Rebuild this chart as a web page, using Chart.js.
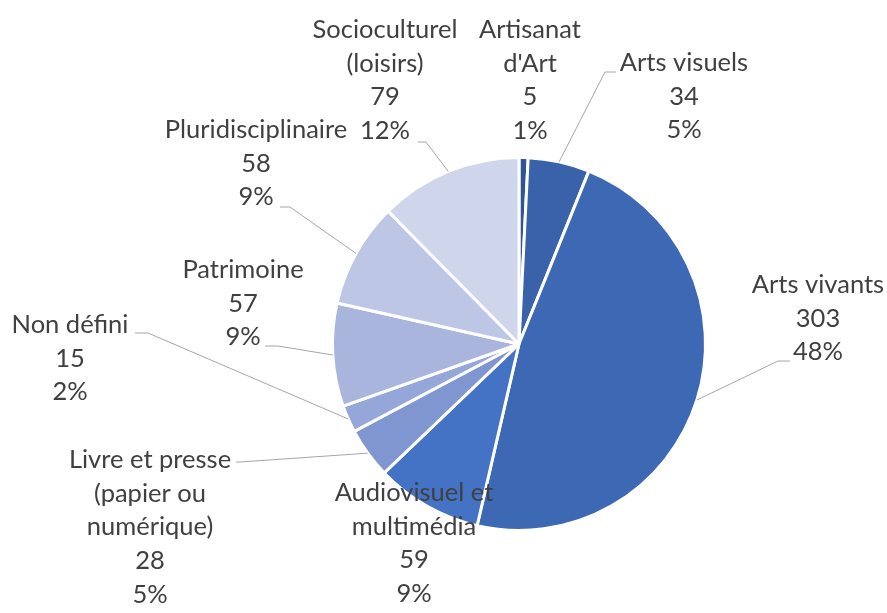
<!DOCTYPE html>
<html>
<head>
<meta charset="utf-8">
<script src="https://cdn.jsdelivr.net/npm/chart.js@4"></script>
<style>
  html, body { margin: 0; padding: 0; background: #fff; }
  #wrap { width: 887px; height: 613px; }
</style>
</head>
<body>
<div id="wrap"><canvas id="myChart" width="887" height="613"></canvas></div>
<script>
// data
const categories = ['Artisanat d\'Art', 'Arts visuels', 'Arts vivants', 'Audiovisuel et multimédia',
  'Livre et presse (papier ou numérique)', 'Non défini', 'Patrimoine', 'Pluridisciplinaire', 'Socioculturel (loisirs)']
const counts = [5, 34, 303, 59, 28, 15, 57, 58, 79]
const percentLabels = ['1%', '5%', '48%', '9%', '5%', '2%', '9%', '9%', '12%']
// how each category name wraps in its label
const nameLines = [
  ['Artisanat', 'd\'Art'],
  ['Arts visuels'],
  ['Arts vivants'],
  ['Audiovisuel et', 'multimédia'],
  ['Livre et presse', '(papier ou', 'numérique)'],
  ['Non défini'],
  ['Patrimoine'],
  ['Pluridisciplinaire'],
  ['Socioculturel', '(loisirs)']
]
const sliceColors = ['#2F5597', '#3A62AB', '#3D69B4', '#4472C4', '#7F96D0', '#95A6D9', '#A9B5DD', '#BDC6E5', '#CFD5EA']

// label layout: text centre x, first line y, and leader elbow (null = no leader)
const labelLayout = [
  { x: 530, y: 30, leader: null },
  { x: 684, y: 63, leader: { x: 616, y: 72, ex: 605 } },
  { x: 818, y: 285, leader: { x: 790, y: 361, ex: 778 } },
  { x: 414, y: 493, leader: null },
  { x: 150, y: 460, leader: { x: 236, y: 462, ex: 240 } },
  { x: 70, y: 325, leader: { x: 135, y: 333, ex: 148 } },
  { x: 243, y: 270, leader: { x: 265, y: 346, ex: 278 } },
  { x: 256, y: 130, leader: { x: 280, y: 207, ex: 290 } },
  { x: 385, y: 30, leader: { x: 418, y: 142, ex: 426 } }
]
const lineHeight = 33.6

const labelPlugin = {
  id: 'sliceLabels',
  afterDatasetsDraw(chart) {
    const ctx = chart.ctx
    const arcs = chart.getDatasetMeta(0).data
    ctx.save()
    // leader lines
    ctx.strokeStyle = '#A6A6A6'
    ctx.lineWidth = 1
    arcs.forEach((arc, i) => {
      const lead = labelLayout[i].leader
      if (!lead) return
      const mid = (arc.startAngle + arc.endAngle) / 2
      const px = arc.x + Math.cos(mid) * arc.outerRadius
      const py = arc.y + Math.sin(mid) * arc.outerRadius
      ctx.beginPath()
      ctx.moveTo(lead.x, lead.y)
      ctx.lineTo(lead.ex, lead.y)
      ctx.lineTo(px, py)
      ctx.stroke()
    })
    // texts
    ctx.fillStyle = '#404040'
    ctx.font = '25.5px Lato, "Open Sans", sans-serif'
    ctx.textAlign = 'center'
    ctx.textBaseline = 'middle'
    arcs.forEach((arc, i) => {
      const lines = nameLines[i].concat([String(counts[i]), percentLabels[i]])
      lines.forEach((t, k) => {
        ctx.fillText(t, labelLayout[i].x, labelLayout[i].y + k * lineHeight)
      })
    })
    ctx.restore()
  }
}

let myChart = document.querySelector('#myChart').getContext('2d')
let pie = new Chart(myChart, {
  type: 'pie',
  data: {
    labels: categories,
    datasets: [{
      data: counts,
      backgroundColor: sliceColors,
      borderColor: '#ffffff',
      borderWidth: 3
    }]
  },
  options: {
    responsive: false,
    animation: false,
    layout: { padding: { left: 331, right: 180, top: 156, bottom: 81 } },
    plugins: {
      legend: { display: false },
      tooltip: { enabled: false }
    }
  },
  plugins: [labelPlugin]
})
</script>
</body>
</html>
